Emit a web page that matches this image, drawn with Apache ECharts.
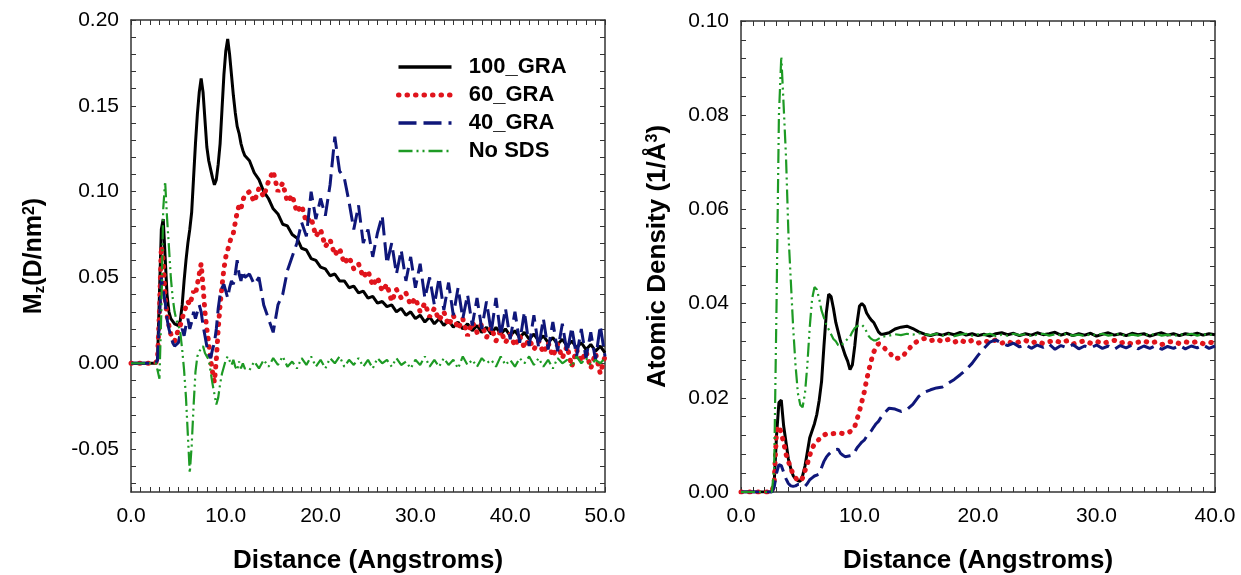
<!DOCTYPE html>
<html>
<head>
<meta charset="utf-8">
<script src="https://cdn.jsdelivr.net/npm/echarts@6/dist/echarts.min.js"></script>
<style>
html, body { margin: 0; background: #fff; }
#main { width: 1241px; height: 575px; }
</style>
</head>
<body>
<div id="main"></div>
<script>
// distance grid (Angstroms), shared by both panels (right panel stops at 40)
var dist = [0, 1, 2, 2.6, 2.8,
  3.0, 3.2, 3.4, 3.6, 3.8, 4.0, 4.2, 4.4, 4.6, 4.8,
  5.0, 5.2, 5.4, 5.6, 5.8, 6.0, 6.2, 6.4, 6.6, 6.8,
  7.0, 7.2, 7.4, 7.6, 7.8, 8.0, 8.2, 8.4, 8.6, 8.8,
  9.0, 9.2, 9.4, 9.6, 9.8, 10.0, 10.2, 10.4, 10.6, 10.8,
  11.0, 11.2, 11.4, 11.6, 11.8, 12.0,
  12.5, 13.0, 13.5, 14.0, 14.5, 15.0, 15.5, 16.0, 16.5, 17.0,
  17.5, 18.0, 18.5, 19.0, 19.5, 20.0, 20.5, 21.0, 21.5, 22.0,
  22.5, 23.0, 23.5, 24.0, 24.5, 25.0, 25.5, 26.0, 26.5, 27.0,
  27.5, 28.0, 28.5, 29.0, 29.5, 30.0, 30.5, 31.0, 31.5, 32.0,
  32.5, 33.0, 33.5, 34.0, 34.5, 35.0, 35.5, 36.0, 36.5, 37.0,
  37.5, 38.0, 38.5, 39.0, 39.5, 40.0, 40.5, 41.0, 41.5, 42.0,
  42.5, 43.0, 43.5, 44.0, 44.5, 45.0, 45.5, 46.0, 46.5, 47.0,
  47.5, 48.0, 48.5, 49.0, 49.5, 50.0];

// left panel: Mz (D/nm^2)
var mz100 = [0, 0, 0, 0, 0.002,
  0.04, 0.078, 0.084, 0.062, 0.04, 0.03, 0.026, 0.025, 0.023, 0.022,
  0.022, 0.025, 0.034, 0.048, 0.06, 0.07, 0.078, 0.088, 0.108, 0.128,
  0.145, 0.158, 0.166, 0.158, 0.142, 0.126, 0.118, 0.113, 0.108, 0.104,
  0.107, 0.116, 0.128, 0.148, 0.168, 0.182, 0.189, 0.18, 0.168, 0.156,
  0.146, 0.138, 0.134, 0.128, 0.124, 0.121,
  0.118, 0.111, 0.107, 0.1, 0.096, 0.09, 0.087, 0.081, 0.08, 0.075,
  0.073, 0.067, 0.066, 0.061, 0.06, 0.056, 0.055, 0.051, 0.052, 0.048,
  0.048, 0.044, 0.045, 0.041, 0.042, 0.038, 0.039, 0.035, 0.036, 0.033,
  0.034, 0.03, 0.032, 0.028, 0.03, 0.026, 0.028, 0.024, 0.027, 0.023,
  0.026, 0.022, 0.025, 0.021, 0.024, 0.02, 0.023, 0.019, 0.022, 0.018,
  0.021, 0.017, 0.021, 0.017, 0.02, 0.016, 0.019, 0.015, 0.018, 0.014,
  0.017, 0.013, 0.016, 0.012, 0.015, 0.011, 0.014, 0.01, 0.013, 0.009,
  0.012, 0.008, 0.011, 0.007, 0.01, 0.006];
var mz60 = [0, 0, 0, 0, 0.003,
  0.03, 0.068, 0.06, 0.038, 0.028, 0.022, 0.017, 0.015, 0.013, 0.016,
  0.02, 0.022, 0.026, 0.03, 0.033, 0.036, 0.034, 0.038, 0.042, 0.04,
  0.046, 0.052, 0.058, 0.045, 0.03, 0.02, 0.012, 0.002, -0.005, -0.011,
  0.002, 0.02, 0.034, 0.045, 0.055, 0.062, 0.066, 0.07, 0.074, 0.076,
  0.082, 0.088, 0.092, 0.09, 0.095, 0.098,
  0.1, 0.094, 0.102, 0.097, 0.106, 0.112, 0.1, 0.105, 0.094, 0.098,
  0.088, 0.092, 0.082, 0.085, 0.074, 0.078, 0.068, 0.072, 0.063, 0.067,
  0.058, 0.062, 0.055, 0.058, 0.05, 0.054, 0.045, 0.05, 0.042, 0.046,
  0.036, 0.043, 0.038, 0.041, 0.034, 0.038, 0.03, 0.035, 0.027, 0.032,
  0.025, 0.03, 0.022, 0.028, 0.02, 0.026, 0.016, 0.024, 0.018, 0.023,
  0.015, 0.021, 0.013, 0.019, 0.012, 0.017, 0.01, 0.016, 0.009, 0.014,
  0.008, 0.013, 0.006, 0.012, 0.004, 0.011, 0.003, 0.01, -0.002, 0.008,
  0.001, 0.007, -0.003, 0.006, -0.006, 0.004];
var mz40 = [0, 0, 0, 0, 0.002,
  0.025, 0.05, 0.042, 0.036, 0.026, 0.02, 0.016, 0.012, 0.01, 0.009,
  0.012, 0.018, 0.02, 0.016, 0.022, 0.026, 0.02, 0.024, 0.03, 0.026,
  0.03, 0.034, 0.03, 0.022, 0.016, 0.01, 0.005, 0.003, 0.008, 0.012,
  0.02, 0.032, 0.04, 0.044, 0.046, 0.042, 0.038, 0.044, 0.048, 0.046,
  0.052, 0.06, 0.052, 0.048, 0.054, 0.05,
  0.052, 0.046, 0.05, 0.034, 0.026, 0.018, 0.034, 0.04, 0.054, 0.062,
  0.07, 0.082, 0.074, 0.1, 0.084, 0.096, 0.086, 0.104, 0.132, 0.112,
  0.108, 0.094, 0.078, 0.092, 0.07, 0.078, 0.062, 0.076, 0.086, 0.058,
  0.07, 0.052, 0.066, 0.048, 0.062, 0.044, 0.058, 0.038, 0.05, 0.034,
  0.05, 0.031, 0.047, 0.028, 0.044, 0.026, 0.04, 0.022, 0.038, 0.02,
  0.036, 0.018, 0.038, 0.016, 0.032, 0.014, 0.03, 0.012, 0.03, 0.01,
  0.028, 0.009, 0.026, 0.008, 0.024, 0.007, 0.023, 0.006, 0.021, 0.004,
  0.02, 0.003, 0.018, 0.002, 0.022, 0.004];
var mz0 = [0, 0, 0, 0, -0.004,
  -0.009, 0.03, 0.09, 0.106, 0.085, 0.068, 0.05, 0.038, 0.03, 0.025,
  0.022, 0.018, 0.008, -0.004, -0.02, -0.042, -0.064, -0.048, -0.025, -0.005,
  0.004, 0.007, 0.008, 0.01, 0.006, 0.004, 0.002, -0.005, -0.012, -0.018,
  -0.024, -0.02, -0.012, -0.006, -0.002, 0.002, 0.004, 0.003, -0.001, 0.002,
  -0.002, -0.004, 0.001, -0.003, 0, -0.003,
  -0.004, 0.001, -0.003, 0.002, -0.002, 0.003, -0.001, 0.004, -0.002, 0.001,
  -0.003, 0.003, -0.001, 0.004, -0.002, 0.002, -0.003, 0.003, 0, 0.004,
  -0.002, 0.002, -0.001, 0.003, -0.002, 0.002, -0.003, 0.003, 0, 0.002,
  -0.002, 0.003, -0.001, 0.001, -0.003, 0.002, -0.001, 0.004, -0.002, 0.002,
  -0.002, 0.003, -0.001, 0.002, -0.003, 0.004, -0.001, 0.002, -0.002, 0.003,
  0, 0.002, -0.002, 0.004, -0.001, 0.002, -0.002, 0.003, 0, 0.004,
  -0.001, 0.003, -0.002, 0.002, -0.003, 0.003, 0, 0.002, -0.002, 0.004,
  0, 0.003, -0.001, 0.002, 0, 0.003];

// right panel: atomic density (1/A^3), 0..40
var rho100 = [0, 0, 0, 0, 0.002,
  0.012, 0.019, 0.0195, 0.014, 0.0105, 0.007, 0.005, 0.0035, 0.0028, 0.0024,
  0.0023, 0.0035, 0.0055, 0.0085, 0.0115, 0.013, 0.0145, 0.0165, 0.0195, 0.0235,
  0.031, 0.038, 0.042, 0.0415, 0.039, 0.036, 0.034, 0.032, 0.0305, 0.029,
  0.0278, 0.026, 0.027, 0.031, 0.036, 0.0395, 0.04, 0.0395, 0.038, 0.0372,
  0.0365, 0.036, 0.035, 0.034, 0.0335, 0.0335,
  0.0338, 0.0346, 0.035, 0.0352, 0.0347, 0.034, 0.0335, 0.0332, 0.0336, 0.0333,
  0.0337, 0.0334, 0.0339, 0.0333, 0.0336, 0.0332, 0.0335, 0.0331, 0.0336, 0.0338,
  0.0334, 0.0337, 0.0332, 0.0336, 0.0333, 0.0338, 0.0334, 0.0336, 0.0339, 0.0333,
  0.0337, 0.0332, 0.0336, 0.0333, 0.0337, 0.0331, 0.0335, 0.0338, 0.0333, 0.0336,
  0.0332, 0.0337, 0.0334, 0.0336, 0.0331, 0.0335, 0.0338, 0.0333, 0.0336, 0.0332,
  0.0336, 0.0334, 0.0337, 0.0333, 0.0336, 0.0334];
var rho60 = [0, 0, 0, 0, 0.002,
  0.013, 0.014, 0.0125, 0.0105, 0.008, 0.0065, 0.005, 0.0038, 0.003, 0.0025,
  0.0023, 0.003, 0.0045, 0.006, 0.0078, 0.0092, 0.0102, 0.0108, 0.0112, 0.0118,
  0.0121, 0.0123, 0.0124, 0.0123, 0.0124, 0.0124, 0.0125, 0.0125, 0.0124, 0.0126,
  0.0126, 0.0128, 0.0132, 0.0139, 0.0155, 0.0172, 0.0192, 0.0212, 0.0238, 0.026,
  0.028, 0.0297, 0.0308, 0.0315, 0.0313, 0.0308,
  0.0296, 0.0283, 0.0285, 0.0298, 0.0314, 0.0322, 0.0326, 0.0321, 0.0325, 0.0319,
  0.0324, 0.0318, 0.0323, 0.0317, 0.0322, 0.0316, 0.0321, 0.0318, 0.0323, 0.0316,
  0.032, 0.0314, 0.0319, 0.0322, 0.0316, 0.032, 0.0315, 0.0319, 0.0322, 0.0317,
  0.0321, 0.0314, 0.0318, 0.0321, 0.0316, 0.032, 0.0315, 0.0319, 0.0322, 0.0316,
  0.0319, 0.0314, 0.0318, 0.0321, 0.0316, 0.0319, 0.0313, 0.0318, 0.032, 0.0315,
  0.0319, 0.0316, 0.032, 0.0315, 0.0318, 0.0316];
var rho40 = [0, 0, 0, 0, 0.001,
  0.004, 0.0058, 0.0056, 0.0042, 0.0028, 0.0018, 0.0013, 0.0012, 0.0013, 0.0016,
  0.0016, 0.0013, 0.0012, 0.0018, 0.0026, 0.003, 0.0034, 0.0036, 0.0038, 0.0052,
  0.0065, 0.0074, 0.008, 0.0085, 0.0088, 0.009, 0.0091, 0.0082, 0.0078, 0.0075,
  0.0076, 0.0077, 0.0078, 0.0085, 0.0094, 0.01, 0.0106, 0.011, 0.0118, 0.0125,
  0.013, 0.0138, 0.0145, 0.015, 0.0158, 0.0165,
  0.0178, 0.0176, 0.0171, 0.0175, 0.0186, 0.0203, 0.0212, 0.0217, 0.0221, 0.0223,
  0.0231, 0.0239, 0.0249, 0.026, 0.0273, 0.029, 0.0305, 0.0318, 0.0323, 0.0316,
  0.0311, 0.0316, 0.0308, 0.0313, 0.0305, 0.0312, 0.0307, 0.0314, 0.0303, 0.0311,
  0.0306, 0.0313, 0.0304, 0.031, 0.0306, 0.0312, 0.0305, 0.031, 0.0303, 0.0311,
  0.0306, 0.0312, 0.0304, 0.031, 0.0305, 0.0311, 0.0303, 0.0309, 0.0305, 0.0311,
  0.0304, 0.031, 0.0306, 0.0312, 0.0305, 0.031];
var rho0 = [0, 0, 0, 0, 0.005,
  0.04, 0.08, 0.0925, 0.082, 0.071, 0.055, 0.045, 0.035, 0.027, 0.021,
  0.0185, 0.018, 0.021, 0.027, 0.035, 0.041, 0.0435, 0.043, 0.041, 0.0385,
  0.037, 0.0355, 0.0345, 0.0335, 0.0325, 0.032, 0.0312, 0.031, 0.0315, 0.032,
  0.0325, 0.033, 0.034, 0.0348, 0.0352, 0.0355, 0.0355, 0.035, 0.034, 0.033,
  0.0325, 0.0322, 0.0322, 0.0325, 0.0328, 0.033,
  0.0332, 0.0335, 0.0333, 0.0336, 0.0334, 0.0337, 0.0335, 0.0333, 0.0336, 0.0332,
  0.0335, 0.0331, 0.0334, 0.0336, 0.0332, 0.0335, 0.0333, 0.0336, 0.0331, 0.0334,
  0.0332, 0.0336, 0.0333, 0.0335, 0.0331, 0.0334, 0.0336, 0.0332, 0.0335, 0.0333,
  0.0336, 0.0332, 0.0334, 0.0331, 0.0335, 0.0333, 0.0336, 0.0332, 0.0334, 0.0336,
  0.0331, 0.0334, 0.0332, 0.0335, 0.0333, 0.0336, 0.0332, 0.0334, 0.0331, 0.0335,
  0.0333, 0.0336, 0.0332, 0.0335, 0.0333, 0.0336];

var names = ['100_GRA', '60_GRA', '40_GRA', 'No SDS'];
var yLabelsL = [-0.05, 0, 0.05, 0.10, 0.15, 0.20];
var yTicksL = [-0.07, -0.06, -0.05, -0.04, -0.03, -0.02, -0.01, 0, 0.01, 0.02, 0.03, 0.04,
  0.05, 0.06, 0.07, 0.08, 0.09, 0.10, 0.11, 0.12, 0.13, 0.14, 0.15, 0.16, 0.17, 0.18, 0.19, 0.20];

var colors = ['#000000', '#e0141c', '#0f177a', '#1d9a24'];
var dashes = ['solid', [0.5, 8], [18, 7], [14, 4, 2, 4, 2, 4]];
var widths = [3, 5, 3, 2.2];
var caps = ['butt', 'round', 'butt', 'butt'];
var font = 'Liberation Sans, Arial, sans-serif';

function pairs(ys) {
  return ys.map(function (y, i) { return [dist[i], y]; });
}

var myChart = echarts.init(document.getElementById('main'));

var lineC = '#333';
function xAx(grid, max, top) {
  return {
    type: 'value', gridIndex: grid, min: 0, max: max, interval: 10,
    position: top ? 'top' : 'bottom',
    axisLine: { onZero: false, lineStyle: { color: lineC, width: 1.5 } },
    axisTick: { inside: true, length: 5, lineStyle: { color: lineC } },
    minorTick: { show: true, splitNumber: 10, length: 5, lineStyle: { color: lineC } },
    splitLine: { show: false },
    axisLabel: {
      show: !top, margin: 14, color: '#000', fontSize: 21, fontFamily: font,
      formatter: function (v) { return v.toFixed(1); }
    },
    name: top ? '' : 'Distance (Angstroms)',
    nameLocation: 'middle', nameGap: 56,
    nameTextStyle: { fontSize: 26, fontWeight: 'bold', color: '#000', fontFamily: font }
  };
}

function yAxL(right) {
  return {
    type: 'value', gridIndex: 0, min: -0.075, max: 0.2,
    position: right ? 'right' : 'left',
    axisLine: { show: true, onZero: false, lineStyle: { color: lineC, width: 1.5 } },
    axisTick: { show: true, inside: true, length: 5, customValues: yTicksL, lineStyle: { color: lineC } },
    splitLine: { show: false },
    axisLabel: {
      show: !right, margin: 12, color: '#000', fontSize: 21, fontFamily: font,
      customValues: yLabelsL,
      formatter: function (v) { return v.toFixed(2); }
    },
    name: right ? '' : '{b|M}{s|z}{b|(D/nm}{p|2}{b|)}',
    nameLocation: 'middle', nameGap: 84,
    nameTextStyle: {
      rich: {
        b: { fontSize: 25, fontWeight: 'bold', color: '#000', fontFamily: font },
        s: { fontSize: 15, fontWeight: 'bold', color: '#000', fontFamily: font, verticalAlign: 'bottom' },
        p: { fontSize: 16, fontWeight: 'bold', color: '#000', fontFamily: font, verticalAlign: 'top' }
      }
    }
  };
}

function yAxR(right) {
  return {
    type: 'value', gridIndex: 1, min: 0, max: 0.1, interval: 0.02,
    position: right ? 'right' : 'left',
    axisLine: { show: true, onZero: false, lineStyle: { color: lineC, width: 1.5 } },
    axisTick: { show: true, inside: true, length: 5, lineStyle: { color: lineC } },
    minorTick: { show: true, splitNumber: 5, length: 5, lineStyle: { color: lineC } },
    splitLine: { show: false },
    axisLabel: {
      show: !right, margin: 12, color: '#000', fontSize: 21, fontFamily: font,
      formatter: function (v) { return v.toFixed(2); }
    },
    name: right ? '' : '{b|Atomic Density (1/\u00C5}{p|3}{b|)}',
    nameLocation: 'middle', nameGap: 70,
    nameTextStyle: {
      rich: {
        b: { fontSize: 26, fontWeight: 'bold', color: '#000', fontFamily: font },
        p: { fontSize: 16, fontWeight: 'bold', color: '#000', fontFamily: font, verticalAlign: 'top' }
      }
    }
  };
}

var leftSets = [mz100, mz60, mz40, mz0];
var rightSets = [rho100, rho60, rho40, rho0];
var series = [];
[leftSets, rightSets].forEach(function (sets, p) {
  sets.forEach(function (ys, k) {
    series.push({
      name: names[k],
      type: 'line',
      xAxisIndex: p * 2,
      yAxisIndex: p * 2,
      data: pairs(ys),
      showSymbol: false,
      symbol: 'none',
      color: colors[k],
      lineStyle: { color: colors[k], width: widths[k], type: dashes[k], cap: caps[k] },
      animation: false
    });
  });
});

option = {
  backgroundColor: '#fff',
  animation: false,
  grid: [
    { left: 131, top: 20, width: 474, height: 472, outerBoundsMode: 'none' },
    { left: 741, top: 21, width: 474, height: 471, outerBoundsMode: 'none' }
  ],
  legend: {
    data: names.map(function (n, k) {
      return {
        name: n,
        lineStyle: { color: colors[k], width: k === 1 ? 5 : widths[k] + 0.5, type: dashes[k], cap: caps[k] }
      };
    }),
    orient: 'vertical',
    left: 391,
    top: 51,
    itemWidth: 53,
    itemHeight: 14,
    itemGap: 6,
    itemStyle: { opacity: 0 },
    backgroundColor: '#fff',
    formatter: function (n) { return '  ' + n; },
    textStyle: { fontSize: 22, fontWeight: 'bold', color: '#000', fontFamily: font }
  },
  xAxis: [xAx(0, 50, false), xAx(0, 50, true), xAx(1, 40, false), xAx(1, 40, true)],
  yAxis: [yAxL(false), yAxL(true), yAxR(false), yAxR(true)],
  series: series
};

myChart.setOption(option);
</script>
</body>
</html>
